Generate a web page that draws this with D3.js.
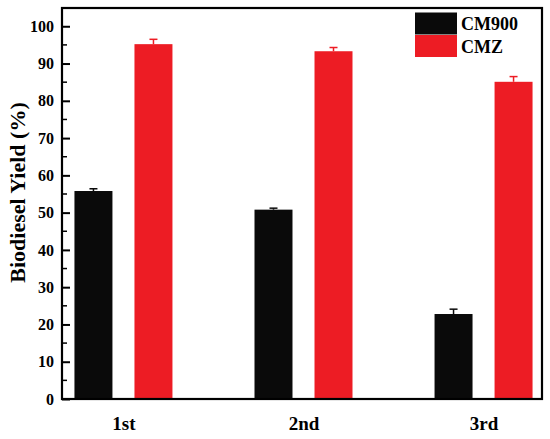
<!DOCTYPE html>
<html>
<head>
<meta charset="utf-8">
<script src="https://cdn.jsdelivr.net/npm/d3@7"></script>
<style>
  html, body { margin: 0; padding: 0; background: #fff; }
  svg { display: block; }
  text { font-family: "Liberation Serif", "Times New Roman", serif; font-weight: bold; fill: #000; }
</style>
</head>
<body>
<svg id="chart" width="550" height="439"></svg>
<script>
// ---- data ----
const categories = ["1st", "2nd", "3rd"];
const seriesNames = ["CM900", "CMZ"];
const cm900Values = [55.8, 50.8, 22.8];
const cm900Errors = [0.6, 0.4, 1.3];
const cmzValues = [95.2, 93.3, 85.1];
const cmzErrors = [1.3, 1.0, 1.4];
const seriesColors = ["#0a0a0a", "#ed1c24"];
const yTicks = [0, 10, 20, 30, 40, 50, 60, 70, 80, 90, 100];
const yTitle = "Biodiesel Yield (%)";

// ---- layout ----
const svg = d3.select("#chart");
const pL = 62, pR = 542, pT = 8, pB = 399;

const y = d3.scaleLinear().domain([0, 104.9]).range([pB, pT]);
const x = d3.scalePoint().domain(categories).range([pL + 1.5, pR + 1.5]).padding(0.333);
const xs = d3.scaleBand().domain(seriesNames).range([-49, 49]).paddingInner(0.367).paddingOuter(0);

const seriesData = [
  { name: seriesNames[0], values: cm900Values, errors: cm900Errors, color: seriesColors[0] },
  { name: seriesNames[1], values: cmzValues, errors: cmzErrors, color: seriesColors[1] }
];

// bars
seriesData.forEach(s => {
  const g = svg.append("g");
  categories.forEach((c, i) => {
    const bx = x(c) + xs(s.name);
    const cx = bx + xs.bandwidth() / 2;
    g.append("rect")
      .attr("x", bx).attr("y", y(s.values[i]))
      .attr("width", xs.bandwidth())
      .attr("height", y(0) - y(s.values[i]))
      .attr("fill", s.color);
    const yt = y(s.values[i] + s.errors[i]);
    g.append("line").attr("x1", cx).attr("x2", cx)
      .attr("y1", y(s.values[i])).attr("y2", yt)
      .attr("stroke", s.color).attr("stroke-width", 1.5);
    g.append("line").attr("x1", cx - 4).attr("x2", cx + 4)
      .attr("y1", yt).attr("y2", yt)
      .attr("stroke", s.color).attr("stroke-width", 1.5);
  });
});

// y axis: major ticks inward + minor
const minorTicks = d3.range(5, 105, 10);
svg.append("g").selectAll("line.minor").data(minorTicks).enter().append("line")
  .attr("x1", pL).attr("x2", pL + 5)
  .attr("y1", d => y(d)).attr("y2", d => y(d))
  .attr("stroke", "#000").attr("stroke-width", 1.5);

const yAxis = d3.axisLeft(y).tickValues(yTicks).tickSizeInner(-8).tickSizeOuter(0).tickPadding(8);
const yg = svg.append("g").attr("transform", `translate(${pL},0)`).call(yAxis);
yg.select(".domain").remove();
yg.selectAll(".tick line").attr("stroke", "#000").attr("stroke-width", 2);
yg.selectAll(".tick text")
  .style("font-family", "'Liberation Serif', 'Times New Roman', serif")
  .style("font-weight", "bold").style("font-size", "16px").attr("fill", "#000");

// x axis labels
const xAxis = d3.axisBottom(x).tickSize(0).tickPadding(18);
const xg = svg.append("g").attr("transform", `translate(0,${pB})`).call(xAxis);
xg.select(".domain").remove();
xg.selectAll(".tick text")
  .style("font-family", "'Liberation Serif', 'Times New Roman', serif")
  .style("font-weight", "bold").style("font-size", "19px").attr("fill", "#000");

// frame
svg.append("rect").attr("x", pL).attr("y", pT)
  .attr("width", pR - pL).attr("height", pB - pT)
  .attr("fill", "none").attr("stroke", "#000").attr("stroke-width", 2.2);

// y title
svg.append("text")
  .attr("transform", `translate(24.5,${(pT + pB) / 2 - 11}) rotate(-90)`)
  .attr("text-anchor", "middle")
  .style("font-size", "22px")
  .text(yTitle);

// legend
const lg = svg.append("g");
seriesData.forEach((s, i) => {
  lg.append("rect").attr("x", 415).attr("y", 12.5 + i * 22.5)
    .attr("width", 42).attr("height", 22).attr("fill", s.color);
  lg.append("text").attr("x", 461).attr("y", 29.5 + i * 23.5)
    .style("font-size", "18px").text(s.name);
});
</script>
</body>
</html>
